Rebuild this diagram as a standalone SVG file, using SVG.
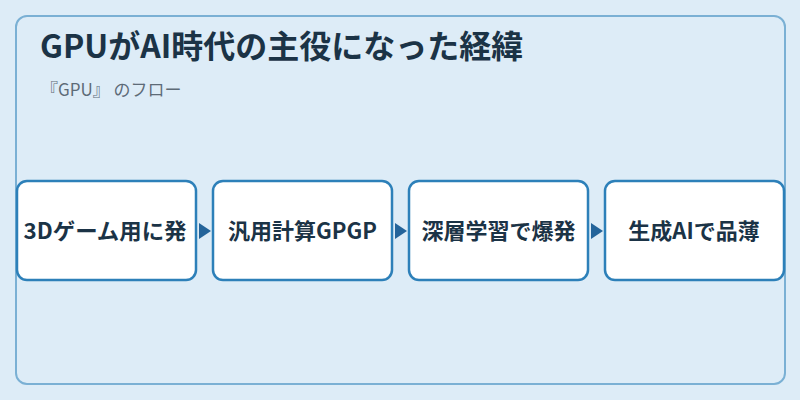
<svg xmlns="http://www.w3.org/2000/svg" width="800" height="400" viewBox="0 0 800 400">
<defs>
<style>
.t{font-family:"Noto Sans CJK JP","Noto Sans",sans-serif;}
.title{font-size:32px;font-weight:700;fill:#1b3346;}
.sub{font-size:17px;fill:#5d6b77;}
.box{fill:#ffffff;stroke:#2d80b9;stroke-width:2.5;}
.lbl{font-size:22px;font-weight:700;fill:#1b3346;text-anchor:middle;}
.arr{fill:#24649a;}
</style>
</defs>
<rect width="800" height="400" fill="#ddecf7"/>
<rect x="16" y="16" width="769" height="368" rx="11" fill="#ddecf7" stroke="#7ab0d4" stroke-width="2"/>
<text class="t title" x="40" y="58">GPUがAI時代の主役になった経緯</text>
<text class="t sub" x="41" y="96">『GPU』 のフロー</text>
<g id="connectors">
<polygon class="arr" points="199,223 211,231 199,239"/>
<polygon class="arr" points="395,223 407,231 395,239"/>
<polygon class="arr" points="591,223 603,231 591,239"/>
</g>
<g id="n1"><rect class="box" x="17" y="181" width="179" height="99" rx="10"/><text class="t lbl" x="105" y="239" textLength="163" lengthAdjust="spacingAndGlyphs">3Dゲーム用に発</text></g>
<g id="n2"><rect class="box" x="213" y="181" width="179" height="99" rx="10"/><text class="t lbl" x="302.5" y="239">汎用計算GPGP</text></g>
<g id="n3"><rect class="box" x="409" y="181" width="179" height="99" rx="10"/><text class="t lbl" x="498.5" y="239">深層学習で爆発</text></g>
<g id="n4"><rect class="box" x="605" y="181" width="179" height="99" rx="10"/><text class="t lbl" x="694" y="239">生成AIで品薄</text></g>
</svg>
